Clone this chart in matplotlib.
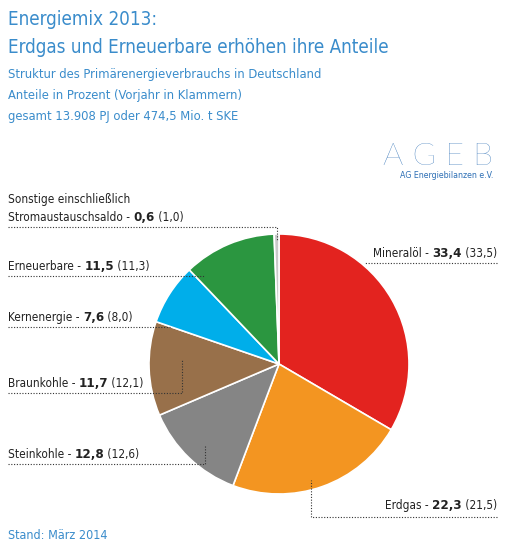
import matplotlib
matplotlib.use("Agg")
import matplotlib.pyplot as plt

labels = ["Mineralöl", "Erdgas", "Steinkohle", "Braunkohle", "Kernenergie", "Erneuerbare", "Sonstige"]
values = [33.4, 22.3, 12.8, 11.7, 7.6, 11.5, 0.6]
prev = ["33,5", "21,5", "12,6", "12,1", "8,0", "11,3", "1,0"]
colors = ["#e3231f", "#f39521", "#858585", "#98704a", "#00aeea", "#2b9640", "#c9c9c9"]

FAM = ['Liberation Sans Narrow', 'DejaVu Sans']
BLUE = "#3a8ccb"
W, H = 505, 549
fig = plt.figure(figsize=(W/100, H/100), dpi=100)
ax = fig.add_axes([0, 0, 1, 1])
Y = lambda py: H - py

ax.pie(values, colors=colors, startangle=90, counterclock=False, center=(279, Y(364)), radius=130,
       wedgeprops=dict(edgecolor='white', linewidth=1.2), frame=True)
ax.set_xlim(0, W); ax.set_ylim(0, H); ax.axis('off'); ax.set_aspect('auto')

def t(x, py, s, size, color="#222222", weight='normal', ha='left', family=FAM):
    return ax.text(x, Y(py), s, fontsize=size, color=color, fontweight=weight, ha=ha, va='baseline',
                   family=family, fontstretch='condensed')

t(8, 25, "Energiemix 2013:", 13.5, BLUE)
t(8, 53, "Erdgas und Erneuerbare erhöhen ihre Anteile", 13.5, BLUE)
t(8, 78, "Struktur des Primärenergieverbrauchs in Deutschland", 9.3, BLUE)
t(8, 99, "Anteile in Prozent (Vorjahr in Klammern)", 9.3, BLUE)
t(8, 120, "gesamt 13.908 PJ oder 474,5 Mio. t SKE", 9.3, BLUE)
t(8, 539, "Stand: März 2014", 9, BLUE)
ax.text(493, Y(165), "A G E B", fontsize=23, color="#2d6fb5", ha='right', va='baseline',
        family=['Lato', 'DejaVu Sans'], fontweight='light')
t(493, 178, "AG Energiebilanzen e.V.", 6.3, "#2d6fb5", ha='right')

fig.canvas.draw()
r = fig.canvas.get_renderer()
inv = ax.transData.inverted()

def label(x, py, name, i):
    parts = [(name + " - ", 'normal', 8.5), (f"{values[i]:.1f}".replace('.', ','), 'bold', 9.5), (f" ({prev[i]})", 'normal', 8.5)]
    cx = x
    for s, w, sz in parts:
        o = t(cx, py, s, sz, weight=w)
        bb = o.get_window_extent(r)
        cx = inv.transform((bb.x1, 0))[0]
    return cx

def rlabel(xr, py, name, i):
    end = label(1000, py, name, i)
    for o in ax.texts[-3:]:
        px, pyy = o.get_position(); o.set_position((px - (end - xr), pyy))

def dotted(xs, pys):
    ax.plot(xs, [Y(p) for p in pys], ls=(0, (1, 1.5)), color="#333333", lw=0.8)

t(8, 203, "Sonstige einschließlich", 8.5)
label(8, 221, "Stromaustauschsaldo", 6)
label(8, 270, "Erneuerbare", 5)
label(8, 321, "Kernenergie", 4)
label(8, 387, "Braunkohle", 3)
label(8, 458, "Steinkohle", 2)
rlabel(497, 257, "Mineralöl", 0)
rlabel(497, 509, "Erdgas", 1)

dotted([8, 277, 277], [227, 227, 240])
dotted([8, 205], [276, 276])
dotted([8, 170], [327, 327])
dotted([8, 182, 182], [393, 393, 360])
dotted([8, 205, 205], [464, 464, 445])
dotted([497, 365], [263, 263])
dotted([497, 311, 311], [517, 517, 480])

fig.savefig("out.png", dpi=100)
